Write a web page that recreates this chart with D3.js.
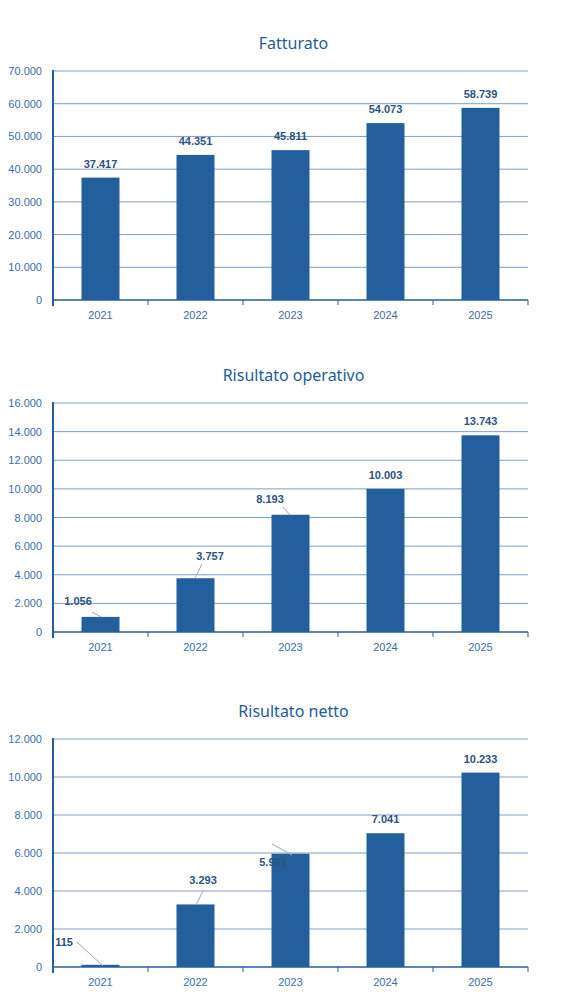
<!DOCTYPE html>
<html><head><meta charset="utf-8">
<script src="https://cdn.jsdelivr.net/npm/d3@7"></script>
<style>body{margin:0;background:#fff}</style></head>
<body><svg id="c" width="579" height="1006"></svg>
<script>
const years = ["2021","2022","2023","2024","2025"];
const fatturato = [37417, 44351, 45811, 54073, 58739];
const risOperativo = [1056, 3757, 8193, 10003, 13743];
const risNetto = [115, 3293, 5961, 7041, 10233];
const titles = ["Fatturato","Risultato operativo","Risultato netto"];
const maxes = [70000, 16000, 12000];
const steps = [10000, 2000, 2000];
// label placement (dx,dy from bar top center; leader if given)
const labelPos = [
  [null,null,null,null,null],
  [{x:78,y:605,lx1:92,ly1:612,lx2:101,ly2:617},{x:210,y:560,lx1:202,ly1:564,lx2:195,ly2:578},{x:270,y:503,lx1:283,ly1:507,lx2:290,ly2:515},null,null],
  [{x:64,y:946,lx1:77,ly1:942,lx2:103,ly2:966},{x:203,y:884,lx1:203,ly1:891,lx2:196,ly2:905},{x:273,y:866,lx1:272,ly1:844,lx2:292,ly2:855},null,null]
];
const series=[fatturato,risOperativo,risNetto];
const tops=[71,403,739], bottoms=[300,632,967];
const fmt = v => d3.format(",")(v).replace(/,/g,".");
const svg=d3.select("#c");
const L=53,R=528;
series.forEach((vals,i)=>{
  const g=svg.append("g");
  const x=d3.scaleBand().domain(years).range([L,R]).paddingInner(0.6).paddingOuter(0.3);
  const y=d3.scaleLinear().domain([0,maxes[i]]).range([bottoms[i],tops[i]]);
  const ticks=d3.range(0,maxes[i]+1,steps[i]);
  g.append("text").attr("x",(L+R)/2+3).attr("y",tops[i]-22).attr("text-anchor","middle")
   .attr("font-family","Noto Sans").attr("font-size",16).attr("fill","#1f5c99").text(titles[i]);
  g.selectAll(".gl").data(ticks.slice(1)).join("line").attr("x1",L).attr("x2",R)
   .attr("y1",d=>y(d)).attr("y2",d=>y(d)).attr("stroke","#7d9ec4").attr("stroke-width",1);
  g.selectAll(".tl").data(ticks).join("text").attr("x",L-11).attr("y",d=>y(d)+4)
   .attr("text-anchor","end").attr("font-family","Liberation Sans").attr("font-size",11)
   .attr("fill","#3a6ea8").text(fmt);
  g.selectAll(".b").data(vals).join("rect").attr("x",(d,j)=>x(years[j])).attr("width",x.bandwidth())
   .attr("y",d=>y(d)).attr("height",d=>bottoms[i]-y(d)).attr("fill","#235f9c");
  g.append("line").attr("x1",L).attr("x2",R).attr("y1",bottoms[i]).attr("y2",bottoms[i]).attr("stroke","#235f9c").attr("stroke-width",1.5);
  g.append("line").attr("x1",L).attr("x2",L).attr("y1",tops[i]-1).attr("y2",bottoms[i]+6).attr("stroke","#235f9c").attr("stroke-width",2);
  const step=(R-L)/5;
  d3.range(1,6).forEach(k=>g.append("line").attr("x1",L+k*step).attr("x2",L+k*step).attr("y1",bottoms[i]).attr("y2",bottoms[i]+5).attr("stroke","#235f9c"));
  g.selectAll(".xl").data(years).join("text").attr("x",d=>x(d)+x.bandwidth()/2).attr("y",bottoms[i]+19)
   .attr("text-anchor","middle").attr("font-family","Liberation Sans").attr("font-size",11).attr("fill","#3a6ea8").text(d=>d);
  vals.forEach((v,j)=>{
    const p=labelPos[i][j];
    const cx=x(years[j])+x.bandwidth()/2;
    if(p){
      g.append("line").attr("x1",p.lx1).attr("y1",p.ly1).attr("x2",p.lx2).attr("y2",p.ly2).attr("stroke","#a6a6a6");
      g.append("text").attr("x",p.x).attr("y",p.y).attr("text-anchor","middle").attr("font-family","Liberation Sans")
       .attr("font-weight","bold").attr("font-size",11).attr("fill","#2b5283").text(fmt(v));
    } else {
      g.append("text").attr("x",cx).attr("y",y(v)-10).attr("text-anchor","middle").attr("font-family","Liberation Sans")
       .attr("font-weight","bold").attr("font-size",11).attr("fill","#2b5283").text(fmt(v));
    }
  });
});
</script></body></html>
